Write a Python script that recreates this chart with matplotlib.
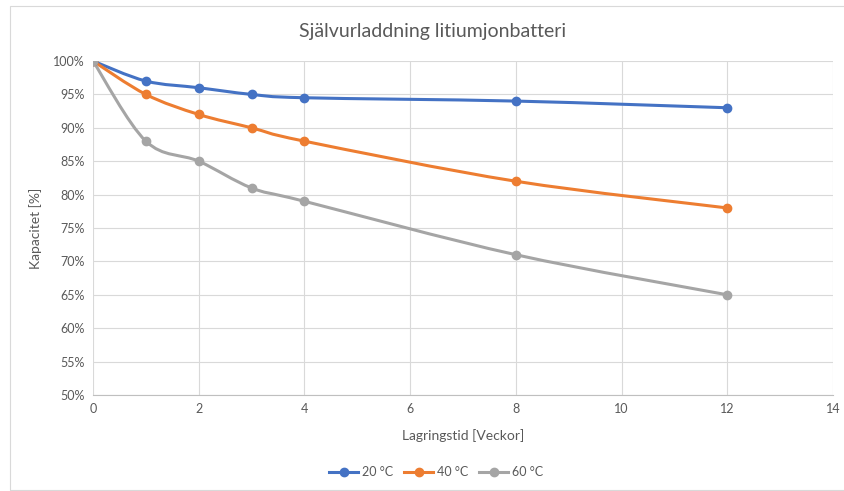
import matplotlib.pyplot as plt
from matplotlib.path import Path
from matplotlib.patches import PathPatch, Rectangle
from matplotlib.lines import Line2D
from matplotlib.ticker import PercentFormatter

plt.rcParams['font.family'] = ['Lato', 'DejaVu Sans']

# storage time in weeks and remaining capacity in %
weeks = [0, 1, 2, 3, 4, 8, 12]
cap_20 = [100, 97, 96, 95, 94.5, 94, 93]
cap_40 = [100, 95, 92, 90, 88, 82, 78]
cap_60 = [100, 88, 85, 81, 79, 71, 65]
series_labels = ['20 °C', '40 °C', '60 °C']
colors = ['#4472C4', '#ED7D31', '#A5A5A5']
txt = '#595959'


def smooth_path(x, y, t=1 / 6):
    # cubic bezier through the points, Excel-like smoothing
    verts = [(x[0], y[0])]
    codes = [Path.MOVETO]
    n = len(x)
    for i in range(n - 1):
        x0, y0 = (x[i - 1], y[i - 1]) if i > 0 else (x[i], y[i])
        x3, y3 = (x[i + 2], y[i + 2]) if i + 2 < n else (x[i + 1], y[i + 1])
        c1 = (x[i] + (x[i + 1] - x0) * t, y[i] + (y[i + 1] - y0) * t)
        c2 = (x[i + 1] - (x3 - x[i]) * t, y[i + 1] - (y3 - y[i]) * t)
        verts += [c1, c2, (x[i + 1], y[i + 1])]
        codes += [Path.CURVE4] * 3
    return Path(verts, codes)


fig = plt.figure(figsize=(8.44, 4.91), dpi=100)
fig.patches.append(Rectangle((10 / 844, 1 / 491), 1.0, 484 / 491, transform=fig.transFigure,
                             fill=False, edgecolor='#D9D9D9', lw=0.8))
ax = fig.add_axes([93 / 844, 1 - 395 / 491, 740 / 844, 334 / 491])

handles = []
for vals, lab, c in zip([cap_20, cap_40, cap_60], series_labels, colors):
    ax.add_patch(PathPatch(smooth_path(weeks, vals), fill=False, edgecolor=c, lw=2.2,
                           capstyle='round', joinstyle='round', zorder=3))
    ax.plot(weeks, vals, 'o', color=c, ms=6, zorder=4)
    handles.append(Line2D([], [], color=c, lw=2.2, marker='o', ms=6, label=lab))

ax.set_xlim(0, 14)
ax.set_ylim(50, 100)
ax.set_xticks(range(0, 15, 2))
ax.set_yticks(range(50, 101, 5))
ax.yaxis.set_major_formatter(PercentFormatter(decimals=0))
ax.grid(True, color='#D9D9D9', lw=0.8)
ax.set_axisbelow(True)
for s in ['top', 'right', 'left']:
    ax.spines[s].set_visible(False)
ax.spines['bottom'].set_color('#BFBFBF')
ax.tick_params(length=0, labelsize=9, labelcolor=txt, pad=6)

fig.text(433 / 844, 1 - 32 / 491, 'Självurladdning litiumjonbatteri', fontsize=14, color=txt,
         ha='center', va='center')
ax.set_xlabel('Lagringstid [Veckor]', fontsize=10, color=txt, labelpad=10)
ax.set_ylabel('Kapacitet [%]', fontsize=10, color=txt, labelpad=8)

fig.legend(handles=handles, loc='center', bbox_to_anchor=(436 / 844, 1 - 472 / 491), ncol=3,
           frameon=False, fontsize=9, labelcolor=txt, handlelength=2.3, columnspacing=0.9,
           handletextpad=0.3)

fig.savefig('out.png', dpi=100)
